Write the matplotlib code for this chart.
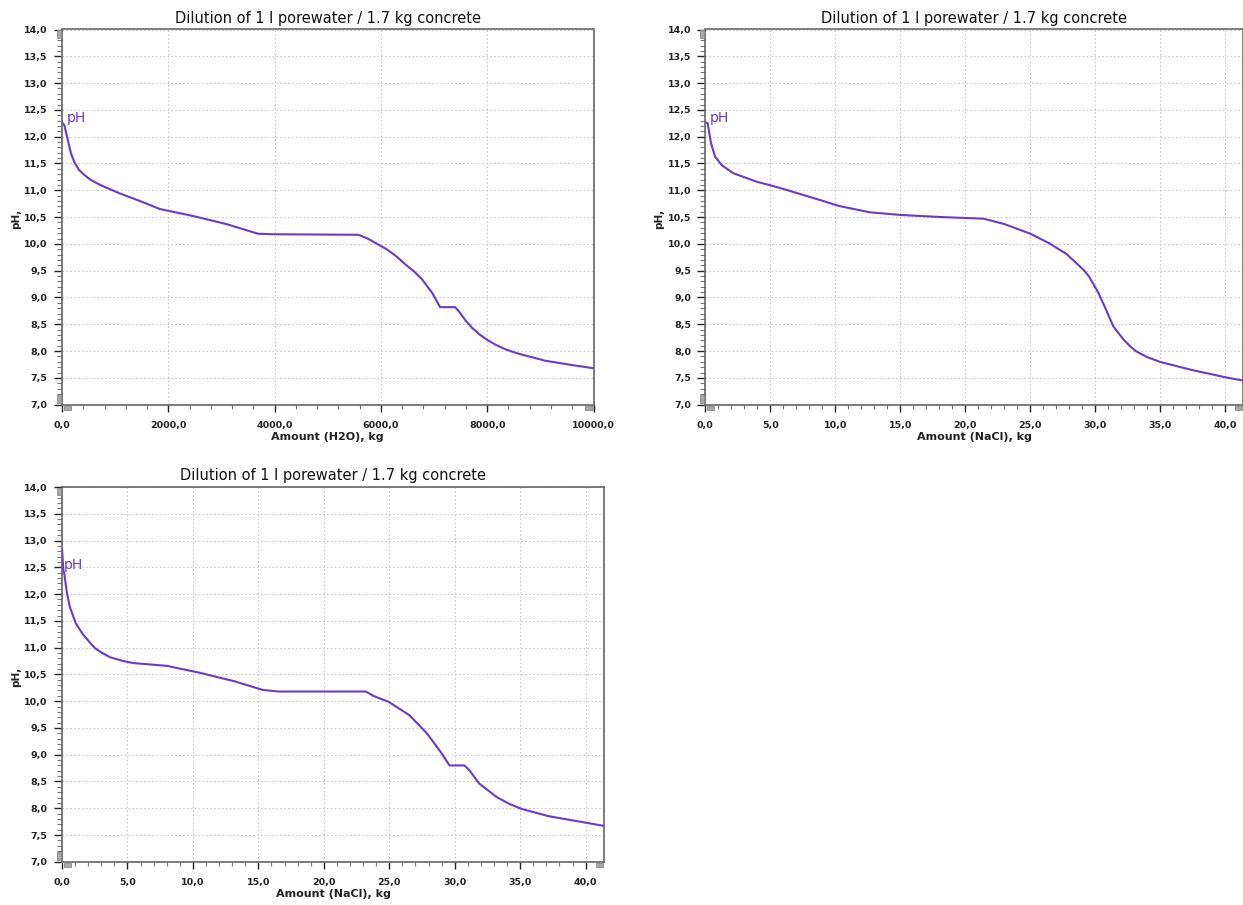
import matplotlib
matplotlib.use("Agg")
import matplotlib.pyplot as plt
from matplotlib.ticker import MultipleLocator, FuncFormatter
from matplotlib.patches import Rectangle

# ---- data -------------------------------------------------------------
TITLE = "Dilution of 1 l porewater / 1.7 kg concrete"
Y_LABEL = "pH,"
SERIES_NAME = "pH"

# Panel 1: dilution with water
h2o_amount = [0, 43, 81, 124, 168, 231, 312, 405, 531, 718, 1093, 1468,
              1843, 2468, 3093, 3687, 3956, 5581, 5750, 5966, 6125, 6300,
              6469, 6630, 6781, 6969, 7113, 7394, 7469, 7594, 7720, 7843,
              8000, 8156, 8350, 8594, 9094, 9593, 10000]
h2o_ph = [12.26, 12.22, 12.06, 11.88, 11.69, 11.53, 11.39, 11.30, 11.20,
          11.10, 10.94, 10.80, 10.65, 10.52, 10.37, 10.19, 10.18, 10.17,
          10.10, 9.98, 9.89, 9.76, 9.61, 9.48, 9.33, 9.08, 8.82, 8.82, 8.74,
          8.57, 8.43, 8.32, 8.21, 8.12, 8.03, 7.95, 7.82, 7.74, 7.68]

# Panel 2: titration with NaCl
nacl_a_amount = [0, 0.18, 0.44, 0.75, 1.26, 2.15, 3.95, 4.92, 6.5, 7.58,
                 8.95, 10.25, 12.65, 15.04, 18.24, 21.43, 23.03, 25.03, 26.49,
                 27.82, 29.15, 29.55, 30.28, 30.88, 31.42, 32.22, 32.75,
                 33.15, 34.0, 35.0, 37.42, 40.08, 41.4]
nacl_a_ph = [12.27, 12.25, 11.88, 11.63, 11.47, 11.32, 11.16, 11.10, 10.99,
             10.91, 10.81, 10.71, 10.59, 10.54, 10.50, 10.47, 10.37, 10.19,
             10.01, 9.81, 9.51, 9.39, 9.08, 8.76, 8.46, 8.21, 8.08, 8.00,
             7.89, 7.80, 7.65, 7.51, 7.45]

# Panel 3: titration with NaCl, second run
nacl_b_amount = [0, 0.1, 0.17, 0.37, 0.6, 1.06, 1.59, 2.15, 2.52, 3.0, 3.68,
                 4.66, 5.5, 6.52, 7.99, 10.53, 13.2, 15.33, 16.53, 23.2,
                 23.86, 24.93, 26.53, 27.87, 28.93, 29.6, 30.74, 31.12, 31.87,
                 33.2, 34.1, 35.07, 37.2, 39.33, 41.4]
nacl_b_ph = [12.85, 12.45, 12.39, 12.03, 11.76, 11.45, 11.25, 11.09, 10.99,
             10.91, 10.82, 10.75, 10.71, 10.69, 10.66, 10.53, 10.37, 10.21,
             10.18, 10.18, 10.09, 9.99, 9.74, 9.40, 9.05, 8.80, 8.80, 8.71,
             8.46, 8.21, 8.09, 7.99, 7.85, 7.76, 7.67]

# ---- styling ----------------------------------------------------------
W, H = 1243, 905
LINE_COLOR = "#6a3acb"
GRID_COLOR = "#c9c9c9"
SPINE_COLOR = "#666666"

plt.rcParams["font.family"] = ["DejaVu Sans"]

fig = plt.figure(figsize=(W / 100, H / 100), dpi=100)
fig.patch.set_facecolor("white")


def comma_fmt(v, _pos):
    return f"{v:.1f}".replace(".", ",")


def add_marker(x, y, w, h):
    """Small grey scroll handle drawn in figure pixel units."""
    fig.add_artist(Rectangle((x / W, 1 - (y + h) / H), w / W, h / H,
                             transform=fig.transFigure, facecolor="#a8a8a8",
                             edgecolor="#8a8a8a", lw=0.6, clip_on=False))


def make_panel(box, x, y, xmax, xmajor, xminor, xlabel, label_base, label_dx):
    left, top, right, bottom = box
    ax = fig.add_axes([left / W, 1 - bottom / H, (right - left) / W,
                       (bottom - top) / H])
    ax.plot(x, y, color=LINE_COLOR, lw=1.5, solid_joinstyle="round",
            solid_capstyle="butt", zorder=3)
    ax.set_xlim(0, xmax)
    ax.set_ylim(7, 14)

    ax.xaxis.set_major_locator(MultipleLocator(xmajor))
    ax.xaxis.set_minor_locator(MultipleLocator(xminor))
    ax.yaxis.set_major_locator(MultipleLocator(0.5))
    ax.yaxis.set_minor_locator(MultipleLocator(0.1))
    ax.xaxis.set_major_formatter(FuncFormatter(comma_fmt))
    ax.yaxis.set_major_formatter(FuncFormatter(comma_fmt))

    ax.grid(which="major", color=GRID_COLOR, linestyle=(0, (1.5, 2.0)),
            lw=0.8, zorder=0)
    ax.set_axisbelow(True)

    ax.tick_params(axis="y", which="major", length=6, width=1.0,
                   color="#222222", labelsize=6.8, pad=4.3)
    ax.tick_params(axis="y", which="minor", length=3.6, width=0.8,
                   color="#777777")
    ax.tick_params(axis="x", which="major", length=5, width=1.0,
                   color="#222222", labelsize=6.8, pad=6.5)
    ax.tick_params(axis="x", which="minor", length=3, width=0.8,
                   color="#777777")
    for lbl in ax.get_xticklabels() + ax.get_yticklabels():
        lbl.set_fontweight("bold")
        lbl.set_color("#222222")

    for s in ax.spines.values():
        s.set_color(SPINE_COLOR)
        s.set_linewidth(1.2)

    ax.set_title(TITLE, fontsize=10.5, pad=5, color="#111111")
    ax.set_xlabel(xlabel, fontsize=8, fontweight="bold", labelpad=1.8,
                  color="#222222")
    ax.set_ylabel(Y_LABEL, fontsize=7.5, fontweight="bold", color="#222222")
    ax.yaxis.set_label_coords(-41 / (right - left),
                              (bottom - ((top + bottom) / 2 + 2)) / (bottom - top))

    ax.annotate(SERIES_NAME, xy=(0, label_base), xytext=(label_dx, 0),
                textcoords="offset points", ha="left", va="baseline",
                fontsize=10, color=LINE_COLOR, zorder=4)

    add_marker(left - 5, top + 1, 4, 7.5)
    add_marker(left - 5, bottom - 9.5, 4, 8)
    add_marker(left + 1.5, bottom + 1.5, 7.5, 4)
    add_marker(right - 8.5, bottom + 1.5, 7.5, 4)
    return ax


make_panel((62, 29.5, 593.5, 404.7), h2o_amount, h2o_ph, 10000,
           2000, 400, "Amount (H2O), kg", 12.28, 3.4)
make_panel((705.3, 29.5, 1243, 404.7), nacl_a_amount, nacl_a_ph, 41.4,
           5, 1, "Amount (NaCl), kg", 12.28, 3.4)
make_panel((62, 487, 604, 861.8), nacl_b_amount, nacl_b_ph, 41.4,
           5, 1, "Amount (NaCl), kg", 12.46, 1.6)

fig.savefig("out.png", dpi=100, facecolor="white")
